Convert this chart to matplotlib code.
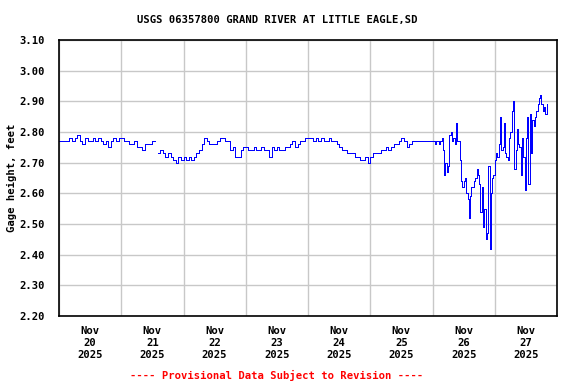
import numpy as np
import pandas as pd
import matplotlib
matplotlib.use('Agg')
import matplotlib.pyplot as plt
import matplotlib.dates as mdates

titulo = 'USGS 06357800 GRAND RIVER AT LITTLE EAGLE,SD'
rotulo_y = 'Gage height, feet'
aviso = '---- Provisional Data Subject to Revision ----'

# Valores horarios, Nov 20 a Nov 25 (pes).
nov20 = [2.77, 2.77, 2.77, 2.77, 2.78, 2.77, 2.78, 2.79, 2.77, 2.76, 2.78, 2.77,
         2.77, 2.78, 2.77, 2.78, 2.77, 2.76, 2.77, 2.75, 2.77, 2.78, 2.77, 2.78]
nov21 = [2.78, 2.77, 2.77, 2.76, 2.76, 2.77, 2.75, 2.75, 2.74, 2.76, 2.76, 2.76,
         2.77, np.nan, 2.73, 2.74, 2.73, 2.72, 2.73, 2.72, 2.71, 2.70, 2.72, 2.71]
nov22 = [2.72, 2.71, 2.72, 2.71, 2.72, 2.73, 2.74, 2.76, 2.78, 2.77, 2.76, 2.76,
         2.76, 2.77, 2.78, 2.78, 2.77, 2.77, 2.74, 2.75, 2.72, 2.72, 2.74, 2.75]
nov23 = [2.75, 2.74, 2.74, 2.75, 2.74, 2.74, 2.75, 2.74, 2.74, 2.72, 2.75, 2.74,
         2.75, 2.74, 2.74, 2.75, 2.75, 2.76, 2.77, 2.75, 2.76, 2.77, 2.77, 2.78]
nov24 = [2.78, 2.78, 2.77, 2.78, 2.77, 2.78, 2.77, 2.77, 2.78, 2.77, 2.77, 2.76,
         2.75, 2.74, 2.74, 2.73, 2.73, 2.73, 2.72, 2.72, 2.71, 2.71, 2.72, 2.70]
nov25 = [2.72, 2.73, 2.73, 2.73, 2.74, 2.74, 2.75, 2.74, 2.75, 2.76, 2.76, 2.77,
         2.78, 2.77, 2.75, 2.76, 2.77, 2.77, 2.77, 2.77, 2.77, 2.77, 2.77, 2.77]

# Valores de meia em meia hora, Nov 26 e Nov 27.
nov26 = [2.77, 2.77, 2.76, 2.77, 2.77, 2.76, 2.77, 2.78, 2.74, 2.66, 2.70, 2.67,
         2.69, 2.79, 2.80, 2.77, 2.78, 2.76, 2.83, 2.77, 2.77, 2.71, 2.64, 2.62,
         2.64, 2.65, 2.60, 2.58, 2.52, 2.59, 2.62, 2.62, 2.64, 2.65, 2.68, 2.66,
         2.63, 2.54, 2.62, 2.49, 2.55, 2.45, 2.47, 2.69, 2.42, 2.60, 2.65, 2.66]
nov27 = [2.71, 2.73, 2.72, 2.76, 2.85, 2.74, 2.75, 2.83, 2.73, 2.72, 2.71, 2.78,
         2.80, 2.87, 2.90, 2.68, 2.74, 2.81, 2.76, 2.75, 2.66, 2.78, 2.72, 2.61,
         2.78, 2.85, 2.63, 2.86, 2.73, 2.84, 2.82, 2.85, 2.87, 2.89, 2.91, 2.92,
         2.89, 2.87, 2.88, 2.86, 2.89]

horario = nov20 + nov21 + nov22 + nov23 + nov24 + nov25
meia_hora = nov26 + nov27

t_horario = pd.date_range('2025-11-20 00:00', periods=len(horario), freq='1h')
t_meia = pd.date_range('2025-11-26 00:00', periods=len(meia_hora), freq='30min')

tempos = list(t_horario) + list(t_meia)
valores = horario + meia_hora

fonte = dict(family='DejaVu Sans Mono', weight='bold', size=7.6)

fig = plt.figure(figsize=(5.76, 3.84), dpi=100)
ax = fig.add_axes([59 / 576, 1 - 316 / 384, (557 - 59) / 576, (316 - 40) / 384])

# Linha fina de 1 pixel, sem suavizacao, como no grafico original.
ax.plot(tempos, valores, color='#0000ff', linewidth=0.72,
        drawstyle='steps-post', antialiased=False)

ax.set_xlim(pd.Timestamp('2025-11-20'), pd.Timestamp('2025-11-28'))
ax.set_ylim(2.20, 3.10)
ax.set_yticks(np.arange(2.20, 3.101, 0.10))
ax.set_yticklabels(['%.2f' % v for v in np.arange(2.20, 3.101, 0.10)], **fonte)

# Grade nas meias-noites, rotulos ao meio-dia.
ax.xaxis.set_major_locator(mdates.DayLocator())
ax.xaxis.set_major_formatter(plt.NullFormatter())
ax.xaxis.set_minor_locator(mdates.HourLocator(byhour=[12]))
ax.xaxis.set_minor_formatter(mdates.DateFormatter('%b\n%d\n%Y'))
for rotulo in ax.xaxis.get_minorticklabels():
    rotulo.set_fontfamily('DejaVu Sans Mono')
    rotulo.set_fontweight('bold')
    rotulo.set_fontsize(7.6)
    rotulo.set_linespacing(1.25)

ax.tick_params(axis='both', which='both', length=0)
ax.tick_params(axis='y', pad=10)
ax.tick_params(axis='x', which='minor', pad=7)

ax.grid(True, which='major', color='#c8c8c8', linewidth=1.0)
ax.set_axisbelow(True)
for lado in ax.spines.values():
    lado.set_linewidth(1.2)
    lado.set_color('black')

fig.text(277 / 576, 1 - 20 / 384, titulo, ha='center', va='center', **fonte)
fig.text(12 / 576, 1 - 178 / 384, rotulo_y, ha='center', va='center', rotation=90, **fonte)
fig.text(277 / 576, 1 - 375 / 384, aviso, ha='center', va='center', color='red', **fonte)

fig.savefig('out.png', dpi=100)
